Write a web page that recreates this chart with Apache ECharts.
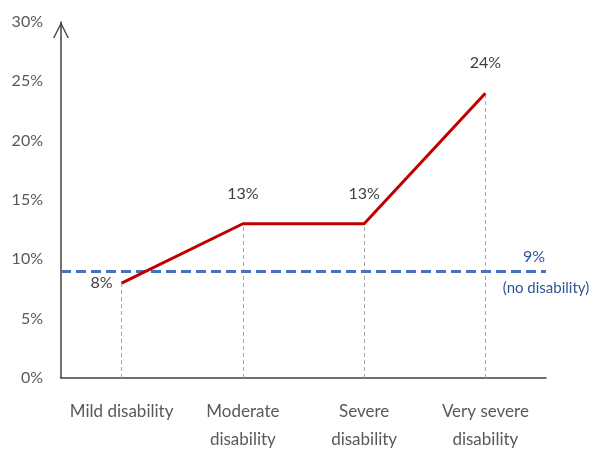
<!DOCTYPE html>
<html>
<head>
<meta charset="utf-8">
<script src="https://cdn.jsdelivr.net/npm/echarts@6/dist/echarts.min.js"></script>
<style>
  html, body { margin: 0; padding: 0; background: #fff; }
  #chart { width: 598px; height: 454px; }
</style>
</head>
<body>
<div id="chart"></div>
<script>
// Share of people by disability level (percent)
const categories = ['Mild disability', 'Moderate\ndisability', 'Severe\ndisability', 'Very severe\ndisability'];
const shares = [8, 13, 13, 24];
const noDisabilityShare = 9;
const noDisabilityLabel = '(no disability)';
const yMin = 0, yMax = 30, yStep = 5;

const FONT = 'Lato, "Noto Sans", sans-serif';
const GRID = { left: 61, right: 52, top: 22, bottom: 76 };

const chart = echarts.init(document.getElementById('chart'), null, { renderer: 'canvas' });

// Grey dashed drop lines from each point down to the category axis
const dropLines = shares.map((v, i) => [
  { coord: [i, 0] },
  { coord: [i, v] }
]);

// Label placement per point: first one sits to the left, the rest above
const labelPos = shares.map((v, i) => i === 0
  ? { position: 'left', distance: 9 }
  : { position: 'top', distance: 22 });

chart.setOption({
  animation: false,
  backgroundColor: '#ffffff',
  grid: GRID,
  xAxis: {
    type: 'category',
    data: categories,
    boundaryGap: true,
    axisLine: { lineStyle: { color: '#404040', width: 1.5 } },
    axisTick: { show: false },
    axisLabel: {
      color: '#595959', fontFamily: FONT, fontSize: 17,
      lineHeight: 28, margin: 20, interval: 0
    },
    splitLine: { show: false }
  },
  yAxis: {
    type: 'value',
    min: yMin, max: yMax, interval: yStep,
    axisLine: {
      show: true,
      lineStyle: { color: '#404040', width: 1.5 },
      // open chevron whose tip sits at the axis end
      symbol: ['none', 'path://M0,10 L5,0 L10,10 L9.1,10 L5,1.8 L0.9,10 Z'],
      symbolSize: [16, 17],
      symbolOffset: [0, -8]
    },
    axisTick: { show: false },
    splitLine: { show: false },
    axisLabel: {
      color: '#595959', fontFamily: FONT, fontSize: 16, margin: 18,
      formatter: v => v + '%'
    }
  },
  series: [
    {
      type: 'line',
      data: shares.map((v, i) => ({
        value: v,
        label: { show: true, ...labelPos[i] }
      })),
      symbol: 'circle',
      symbolSize: 0,
      showSymbol: true,
      itemStyle: { color: '#C00000' },
      lineStyle: { color: '#C00000', width: 3 },
      z: 5,
      label: {
        show: true,
        color: '#404040', fontFamily: FONT, fontSize: 16,
        formatter: p => p.value + '%'
      },
      markLine: {
        silent: true,
        symbol: 'none',
        z: 1,
        label: { show: false },
        lineStyle: { color: '#A6A6A6', type: [4, 3], width: 1 },
        data: dropLines
      }
    },
    {
      // Reference level for people with no disability
      type: 'line',
      data: [],
      markLine: {
        silent: true,
        symbol: 'none',
        z: 3,
        label: { show: false },
        lineStyle: { color: '#4472C4', type: [10, 5], width: 3 },
        data: [{ yAxis: noDisabilityShare }]
      }
    }
  ]
});

// Text beside the reference line, positioned from the value axis scale
const yRef = chart.convertToPixel({ yAxisIndex: 0 }, noDisabilityShare);
const xEnd = 598 - GRID.right;
chart.setOption({
  graphic: [
    {
      type: 'text', x: xEnd - 1, y: yRef - 14,
      style: {
        text: noDisabilityShare + '%', fill: '#2F5597',
        font: '16px ' + FONT, align: 'right', verticalAlign: 'middle'
      }
    },
    {
      type: 'text', x: xEnd, y: yRef + 17,
      style: {
        text: noDisabilityLabel, fill: '#2F5597',
        font: '15px ' + FONT, align: 'center', verticalAlign: 'middle'
      }
    }
  ]
});
</script>
</body>
</html>
